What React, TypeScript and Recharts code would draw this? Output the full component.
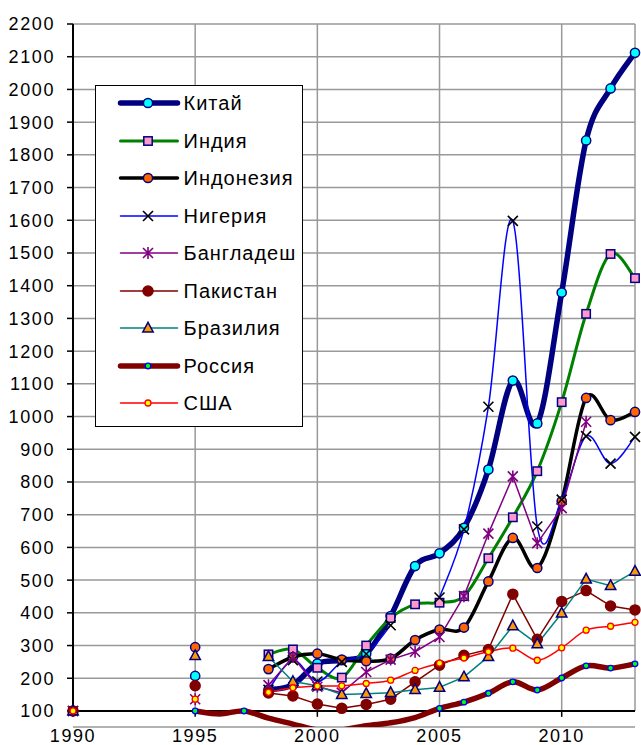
import React from "react";
import { LineChart, Line, XAxis, YAxis, CartesianGrid, ReferenceLine, Legend } from "recharts";

// years on the x axis (gaps are null)
const YEARS = [1990, 1991, 1992, 1993, 1994, 1995, 1996, 1997, 1998, 1999, 2000, 2001, 2002, 2003, 2004, 2005, 2006, 2007, 2008, 2009, 2010, 2011, 2012, 2013];

const CHINA = [100, null, null, null, null, 207, null, null, 165, 180, 245, 255, 275, 390, 543, 582, 660, 838, 1110, 979, 1379, 1844, 2003, 2112];
const INDIA = [100, null, null, null, null, null, null, null, 273, 288, 232, 202, 300, 384, 426, 431, 451, 567, 692, 833, 1044, 1314, 1497, 1423];
const INDONESIA = [100, null, null, null, null, 295, null, null, 228, 265, 275, 257, 252, 260, 317, 349, 355, 496, 629, 537, 741, 1057, 989, 1014];
const NIGERIA = [100, null, null, null, null, null, null, null, 165, 255, 190, 250, 274, 362, null, 447, 655, 1030, 1598, 664, 746, 940, 856, 938];
const BANGLADESH = [100, null, null, null, null, 136, null, null, 179, 265, 174, 156, 219, 257, 281, 326, 451, 642, 817, 613, 720, 984, null, null];
const PAKISTAN = [100, null, null, null, null, 177, null, null, 155, 146, 121, 108, 120, 136, 189, 240, 270, 288, 457, 319, 435, 468, 421, 409];
const BRAZIL = [100, null, null, null, null, 269, null, null, 266, 190, 177, 150, 153, 156, 165, 172, 204, 266, 360, 305, 399, 503, 483, 527];
const RUSSIA = [null, null, null, null, null, 100, 91, 100, 78, 60, 42, 42, 55, 64, 80, 108, 127, 154, 189, 164, 201, 238, 231, 244];
const USA = [100, null, null, null, null, 136, null, null, 157, 171, 176, 177, 184, 194, 224, 246, 262, 281, 292, 255, 293, 347, 359, 371];

const Y_TICKS = [100, 200, 300, 400, 500, 600, 700, 800, 900, 1000, 1100, 1200, 1300, 1400, 1500, 1600, 1700, 1800, 1900, 2000, 2100, 2200];
const X_TICKS = [1990, 1995, 2000, 2005, 2010];
const V_GRID = [1995, 2000, 2005, 2010, 2013];

const FONT = '"Liberation Sans", Arial, sans-serif';

// Excel-like smoothed line (uniform Catmull-Rom through the points)
function excelSmooth(context: any) {
  let pts: number[][] = [];
  return {
    areaStart() {},
    areaEnd() {},
    lineStart() {
      pts = [];
    },
    point(x: number, y: number) {
      pts.push([+x, +y]);
    },
    lineEnd() {
      if (!pts.length) return;
      context.moveTo(pts[0][0], pts[0][1]);
      for (let i = 0; i < pts.length - 1; i++) {
        const p0 = pts[Math.max(i - 1, 0)];
        const p1 = pts[i];
        const p2 = pts[i + 1];
        const p3 = pts[Math.min(i + 2, pts.length - 1)];
        context.bezierCurveTo(
          p1[0] + (p2[0] - p0[0]) / 6,
          p1[1] + (p2[1] - p0[1]) / 6,
          p2[0] - (p3[0] - p1[0]) / 6,
          p2[1] - (p3[1] - p1[1]) / 6,
          p2[0],
          p2[1]
        );
      }
    },
  };
}

const SERIES = [
  { key: "china", name: "Китай", data: CHINA, color: "#000080", width: 5.5, smooth: true, marker: "circle", fill: "#00FFFF", mstroke: "#000080", size: 4.6 },
  { key: "india", name: "Индия", data: INDIA, color: "#008000", width: 3, smooth: true, marker: "square", fill: "#FF99CC", mstroke: "#000080", size: 4.2 },
  { key: "indonesia", name: "Индонезия", data: INDONESIA, color: "#000000", width: 3.5, smooth: true, marker: "circle", fill: "#FF6600", mstroke: "#000080", size: 4.6 },
  { key: "nigeria", name: "Нигерия", data: NIGERIA, color: "#0000FF", width: 1.5, smooth: true, marker: "x", fill: "none", mstroke: "#000000", size: 5 },
  { key: "bangladesh", name: "Бангладеш", data: BANGLADESH, color: "#800080", width: 1.5, smooth: false, marker: "star", fill: "none", mstroke: "#800080", size: 5 },
  { key: "pakistan", name: "Пакистан", data: PAKISTAN, color: "#800000", width: 1.5, smooth: false, marker: "circle", fill: "#800000", mstroke: "#800000", size: 5 },
  { key: "brazil", name: "Бразилия", data: BRAZIL, color: "#008080", width: 1.5, smooth: false, marker: "triangle", fill: "#FF9900", mstroke: "#000080", size: 5.2 },
  { key: "russia", name: "Россия", data: RUSSIA, color: "#800000", width: 5.5, smooth: true, marker: "circle", fill: "#00FF00", mstroke: "#0000FF", size: 2.8 },
  { key: "usa", name: "США", data: USA, color: "#FF0000", width: 1.5, smooth: true, marker: "circle", fill: "#FFFF00", mstroke: "#FF0000", size: 3 },
];

const rows = YEARS.map((year, i) => {
  const row: any = { year };
  SERIES.forEach((s) => {
    row[s.key] = s.data[i];
  });
  return row;
});

function Marker({ kind, x, y, fill, stroke, size }: any) {
  const sw = size < 3.5 ? 1.3 : 1.5;
  if (kind === "square") {
    return <rect x={x - size} y={y - size} width={size * 2} height={size * 2} fill={fill} stroke={stroke} strokeWidth={sw} />;
  }
  if (kind === "triangle") {
    const pts = `${x},${y - size * 1.1} ${x + size},${y + size * 0.75} ${x - size},${y + size * 0.75}`;
    return <polygon points={pts} fill={fill} stroke={stroke} strokeWidth={sw} strokeLinejoin="miter" />;
  }
  if (kind === "x") {
    const d = `M${x - size},${y - size}L${x + size},${y + size}M${x + size},${y - size}L${x - size},${y + size}`;
    return <path d={d} stroke={stroke} strokeWidth={1.6} fill="none" />;
  }
  if (kind === "star") {
    const d = `M${x - size},${y - size}L${x + size},${y + size}M${x + size},${y - size}L${x - size},${y + size}M${x},${y - size * 1.2}L${x},${y + size * 1.2}`;
    return <path d={d} stroke={stroke} strokeWidth={1.6} fill="none" />;
  }
  return <circle cx={x} cy={y} r={size} fill={fill} stroke={stroke} strokeWidth={sw} />;
}

const makeDot = (s: any) => (props: any) => {
  const { cx, cy, value, index } = props;
  const key = `${s.key}-dot-${index}`;
  // points that fall under the axis minimum get no marker
  if (cx == null || cy == null || value == null || value < 100) return <g key={key} />;
  return <Marker key={key} kind={s.marker} x={cx} y={cy} fill={s.fill} stroke={s.mstroke} size={s.size} />;
};

function YTick({ x, y, payload }: any) {
  return (
    <text x={x} y={y} dy="0.36em" textAnchor="end" fontFamily={FONT} fontSize={18} letterSpacing={1.6} fill="#000">
      {payload.value}
    </text>
  );
}

function XTick({ x, y, payload }: any) {
  return (
    <text x={x} y={y} dy="0.72em" textAnchor="middle" fontFamily={FONT} fontSize={18} letterSpacing={1.6} fill="#000">
      {payload.value}
    </text>
  );
}

function LegendBox() {
  return (
    <div style={{ width: 208, height: 342, border: "1.5px solid #000", background: "#fff", boxSizing: "border-box", position: "relative" }}>
      {SERIES.map((s, i) => (
        <div key={s.key} style={{ position: "absolute", left: 0, top: 17 + 37.5 * i - 15, height: 30, display: "flex", alignItems: "center" }}>
          <svg width={87.5} height={30} style={{ display: "block" }}>
            <line x1={24.5} x2={81.5} y1={15} y2={15} stroke={s.color} strokeWidth={s.width} strokeLinecap="round" />
            <Marker kind={s.marker} x={52} y={15} fill={s.fill} stroke={s.mstroke} size={s.size} />
          </svg>
          <span style={{ fontFamily: FONT, fontSize: 20, letterSpacing: 1, color: "#000", lineHeight: "30px", whiteSpace: "nowrap" }}>{s.name}</span>
        </div>
      ))}
    </div>
  );
}

export default function App() {
  return (
    <div style={{ position: "absolute", left: 0, top: 0, width: 641, height: 745, background: "#fff" }}>
      <LineChart width={641} height={745} data={rows} margin={{ top: 24, right: 6, left: 13, bottom: 0 }}>
        <CartesianGrid horizontal vertical={false} stroke="#999999" strokeWidth={1.5} />
        {V_GRID.map((yr) => (
          <ReferenceLine key={`vg-${yr}`} segment={[{ x: yr, y: 100 }, { x: yr, y: 2200 }]} stroke="#999999" strokeWidth={1.5} />
        ))}
        <XAxis
          dataKey="year"
          type="number"
          domain={[1990, 2013]}
          ticks={X_TICKS}
          axisLine={false}
          tickLine={false}
          tickSize={0}
          tickMargin={2}
          height={18}
          tick={<XTick />}
          interval={0}
        />
        <YAxis
          type="number"
          domain={[51, 2200]}
          allowDataOverflow
          ticks={Y_TICKS}
          axisLine={false}
          tickLine={{ stroke: "#000", strokeWidth: 1.5 }}
          tickSize={6}
          tickMargin={12}
          width={60}
          tick={<YTick />}
          interval={0}
        />
        <ReferenceLine segment={[{ x: 1990, y: 100 }, { x: 1990, y: 2200 }]} stroke="#000" strokeWidth={2} />
        <ReferenceLine segment={[{ x: 1990, y: 100 }, { x: 2013, y: 100 }]} stroke="#000" strokeWidth={2} />
        {X_TICKS.map((yr) => (
          <ReferenceLine key={`xt-${yr}`} segment={[{ x: yr, y: 100 }, { x: yr, y: 82 }]} stroke="#000" strokeWidth={1.5} />
        ))}
        {SERIES.map((s) => (
          <Line
            key={s.key}
            dataKey={s.key}
            name={s.name}
            type={s.smooth ? (excelSmooth as any) : "linear"}
            stroke={s.color}
            strokeWidth={s.width}
            strokeLinejoin="round"
            strokeLinecap="round"
            dot={makeDot(s)}
            activeDot={false}
            connectNulls={false}
            isAnimationActive={false}
          />
        ))}
        <Legend
          layout="vertical"
          align="center"
          verticalAlign="middle"
          content={() => <LegendBox />}
          wrapperStyle={{ left: 95, top: 85, width: 208, height: 342 }}
        />
      </LineChart>
    </div>
  );
}
